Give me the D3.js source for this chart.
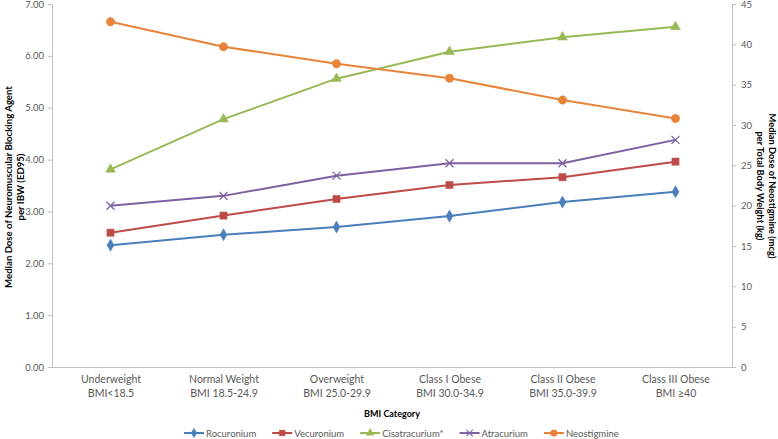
<!DOCTYPE html>
<html><head><meta charset="utf-8">
<script src="https://cdn.jsdelivr.net/npm/d3@7"></script>
<style>
html,body{margin:0;padding:0;background:#fff;}
svg{display:block;font-family:Lato,"Open Sans",sans-serif;}
</style></head>
<body><svg id="c" width="778" height="439"></svg>
<script>
const categories = ["Underweight|BMI<18.5","Normal Weight|BMI 18.5-24.9","Overweight|BMI 25.0-29.9","Class I Obese|BMI 30.0-34.9","Class II Obese|BMI 35.0-39.9","Class III Obese|BMI \u226540"];
const rocuronium    = [2.35, 2.55, 2.70, 2.91, 3.18, 3.38];
const vecuronium    = [2.59, 2.92, 3.24, 3.51, 3.66, 3.96];
const cisatracurium = [3.81, 4.78, 5.56, 6.08, 6.36, 6.56];
const atracurium    = [3.11, 3.30, 3.69, 3.93, 3.93, 4.38];
const neostigmine   = [42.8, 39.7, 37.6, 35.8, 33.1, 30.8];
const leftTicks  = [0,1,2,3,4,5,6,7];
const rightTicks = [0,5,10,15,20,25,30,35,40,45];

const series = [
  {name:"Rocuronium", values:rocuronium, color:"#4A7EBB", marker:"diamond", axis:"L"},
  {name:"Vecuronium", values:vecuronium, color:"#BE4B48", marker:"square", axis:"L"},
  {name:"Cisatracurium*", values:cisatracurium, color:"#98B954", marker:"triangle", axis:"L"},
  {name:"Atracurium", values:atracurium, color:"#7D60A0", marker:"x", axis:"L"},
  {name:"Neostigmine", values:neostigmine, color:"#E8843A", marker:"circle", axis:"R"}
];

const svg = d3.select("#c");
const L = 52, R = 732, T = 4, B = 367;
const x = d3.scalePoint().domain(categories).range([54, R]).padding(0.5);
const yL = d3.scaleLinear().domain([0,7]).range([B,T]);
const yR = d3.scaleLinear().domain([0,45]).range([B,T]);
const axisColor = "#BFBFBF", textColor = "#595959";

// left axis
const gl = svg.append("g").attr("transform",`translate(${L},0)`)
  .call(d3.axisLeft(yL).tickValues(leftTicks).tickFormat(d3.format(".2f")).tickSize(4).tickPadding(4).tickSizeOuter(0));
// right axis
const gr = svg.append("g").attr("transform",`translate(${R},0)`)
  .call(d3.axisRight(yR).tickValues(rightTicks).tickFormat(d3.format("d")).tickSize(4).tickPadding(5).tickSizeOuter(0));
[gl,gr].forEach(g=>{
  g.select(".domain").attr("stroke",axisColor);
  g.selectAll(".tick line").attr("stroke",axisColor);
  g.selectAll(".tick text").attr("fill",textColor).style("font-size","9.5px").style("font-family","Lato,sans-serif");
});
// bottom axis
const gb = svg.append("g").attr("transform",`translate(0,${B})`)
  .call(d3.axisBottom(x).tickSize(0).tickPadding(0).tickFormat(""));
gb.select(".domain").attr("stroke",axisColor).attr("d",`M${L},0.5H${R}`);
gb.selectAll(".tick").each(function(d){
  const parts = d.split("|");
  const t = d3.select(this).append("text").attr("fill",textColor)
    .attr("text-anchor","middle").style("font-size","10.5px").style("font-family","Lato,sans-serif");
  t.append("tspan").attr("x",0).attr("y",16).text(parts[0]);
  t.append("tspan").attr("x",0).attr("y",30).text(parts[1]);
});

// axis titles
svg.append("text").attr("x",(L+R)/2).attr("y",417).attr("text-anchor","middle")
  .style("font-size","9px").style("font-weight","bold").attr("fill","#000").text("BMI Category");
const lt = svg.append("text").attr("transform","translate(12,187) rotate(-90)").attr("text-anchor","middle")
  .style("font-size","9.6px").style("font-weight","bold").attr("fill","#000");
lt.append("tspan").attr("x",0).attr("y",0).text("Median Dose of Neuromuscular Blocking Agent");
lt.append("tspan").attr("x",0).attr("y",11.5).text("per IBW (ED95)");
const rt = svg.append("text").attr("transform","translate(769,186) rotate(90)").attr("text-anchor","middle")
  .style("font-size","9.3px").style("font-weight","bold").attr("fill","#000");
rt.append("tspan").attr("x",0).attr("y",0).text("Median Dose of Neostigmine (mcg)");
rt.append("tspan").attr("x",0).attr("y",12).text("per Total Body Weight (kg)");

function drawMarker(g, type, color){
  if(type==="x"){
    g.append("path").attr("d","M-4,-4L4,4M-4,4L4,-4").attr("stroke",color).attr("stroke-width",1.3).attr("fill","none");
    return;
  }
  const sym = {diamond:d3.symbolDiamond, square:d3.symbolSquare, triangle:d3.symbolTriangle, circle:d3.symbolCircle}[type];
  const size = {diamond:42, square:52, triangle:42, circle:55}[type];
  g.append("path").attr("d",d3.symbol(sym,size)()).attr("fill",color).attr("stroke",color).attr("stroke-width",0.5);
}

// series
series.forEach(s=>{
  const y = s.axis==="L" ? yL : yR;
  const line = d3.line().x((d,i)=>x(categories[i])).y(d=>y(d));
  svg.append("path").datum(s.values).attr("d",line).attr("fill","none")
    .attr("stroke",s.color).attr("stroke-width",2).attr("stroke-linejoin","round");
  s.values.forEach((v,i)=>{
    const g = svg.append("g").attr("transform",`translate(${x(categories[i])},${y(v)})`);
    drawMarker(g, s.marker, s.color);
  });
});

// legend
let lx = 184; const ly = 433;
series.forEach(s=>{
  const g = svg.append("g").attr("transform",`translate(${lx},${ly})`);
  g.append("line").attr("x1",0).attr("x2",20).attr("y1",0).attr("y2",0).attr("stroke",s.color).attr("stroke-width",2);
  const m = g.append("g").attr("transform","translate(10,0) scale(0.8)");
  drawMarker(m, s.marker, s.color);
  const t = g.append("text").attr("x",22).attr("y",3.5).attr("fill",textColor)
    .style("font-size","9.5px").text(s.name);
  lx += 22 + t.node().getComputedTextLength() + 16;
});
</script>
</body></html>
